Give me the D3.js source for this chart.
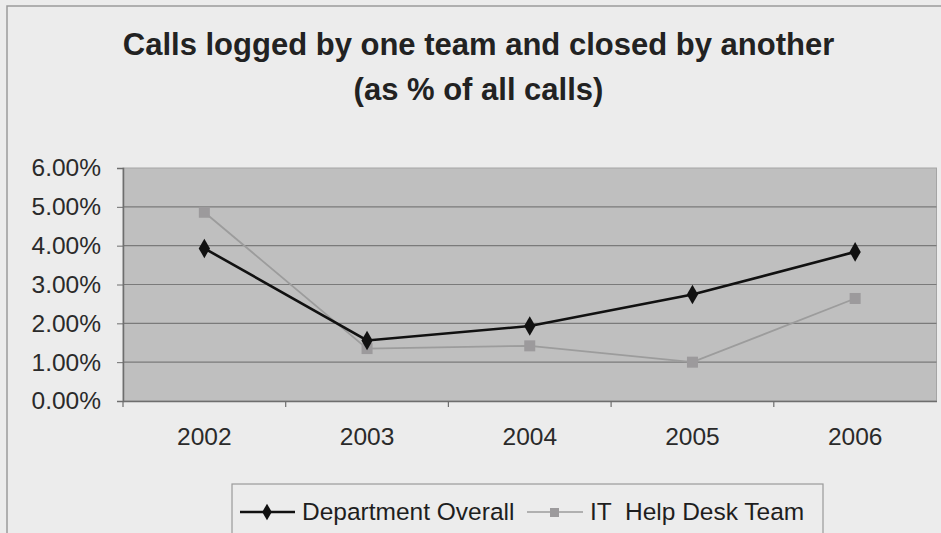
<!DOCTYPE html>
<html>
<head>
<meta charset="utf-8">
<script src="https://cdn.jsdelivr.net/npm/d3@7"></script>
<style>
  html, body { margin: 0; padding: 0; background: #ececec; }
  svg { display: block; font-family: "Liberation Sans", Arial, sans-serif; }
</style>
</head>
<body>
<svg id="chart" width="941" height="533"></svg>
<script>
// Share of calls logged by one team and closed by another
const years = ["2002", "2003", "2004", "2005", "2006"];
const departmentOverall = [0.0393, 0.0156, 0.0193, 0.0274, 0.0384];
const itHelpDesk = [0.0486, 0.0135, 0.0142, 0.0100, 0.0264];
const yTicks = [0, 0.01, 0.02, 0.03, 0.04, 0.05, 0.06];
const seriesNames = ["Department Overall", "IT  Help Desk Team"];

const svg = d3.select("#chart");
const W = 941, H = 533;
const FONT = "'Liberation Sans', Arial, sans-serif";

// outer chart frame
svg.append("rect").attr("x", 0).attr("y", 0).attr("width", W).attr("height", H).attr("fill", "#ececec");
svg.append("rect").attr("x", 7).attr("y", 6).attr("width", 950).attr("height", 540)
  .attr("fill", "#ececec").attr("stroke", "#9a9a9a").attr("stroke-width", 1.5);

const plot = { left: 123, right: 936.5, top: 168, bottom: 401 };

const x = d3.scaleBand().domain(years).range([plot.left, plot.right]).paddingInner(0).paddingOuter(0);
const y = d3.scaleLinear().domain([0, 0.06]).range([plot.bottom, plot.top]);
const cx = d => x(d) + x.bandwidth() / 2;

// title
const title = svg.append("text").attr("text-anchor", "middle").attr("font-weight", "bold")
  .attr("font-size", 31).attr("fill", "#222");
title.append("tspan").attr("x", 478.5).attr("y", 55).text("Calls logged by one team and closed by another");
title.append("tspan").attr("x", 478.5).attr("y", 100).text("(as % of all calls)");

// plot background
svg.append("rect").attr("x", plot.left).attr("y", plot.top)
  .attr("width", plot.right - plot.left).attr("height", plot.bottom - plot.top)
  .attr("fill", "#bfbfbf").attr("stroke", "#a5a5a5").attr("stroke-width", 1);

// gridlines
svg.append("g").selectAll("line").data(yTicks.slice(1, -1)).join("line")
  .attr("x1", plot.left).attr("x2", plot.right)
  .attr("y1", d => y(d)).attr("y2", d => y(d))
  .attr("stroke", "#7a7a7a").attr("stroke-width", 1.2);

// y axis
const yAxis = svg.append("g").attr("transform", `translate(${plot.left},0)`)
  .call(d3.axisLeft(y).tickValues(yTicks).tickFormat(d3.format(".2%")).tickSize(6).tickPadding(16));
yAxis.select(".domain").attr("stroke", "#6e6e6e").attr("stroke-width", 1.5);
yAxis.selectAll(".tick line").attr("stroke", "#6e6e6e");
yAxis.selectAll("text").attr("font-size", 24.5).attr("fill", "#2a2a2a").attr("font-family", FONT);

// x axis with ticks at category boundaries
const xAxis = svg.append("g").attr("transform", `translate(0,${plot.bottom})`)
  .call(d3.axisBottom(x).tickSize(0).tickPadding(27));
xAxis.select(".domain").attr("stroke", "#6e6e6e").attr("stroke-width", 1.5);
xAxis.selectAll("text").attr("font-size", 24.5).attr("fill", "#2a2a2a").attr("font-family", FONT);
svg.append("g").selectAll("line").data(years.slice(1)).join("line")
  .attr("x1", d => x(d)).attr("x2", d => x(d))
  .attr("y1", plot.bottom).attr("y2", plot.bottom + 6)
  .attr("stroke", "#6e6e6e").attr("stroke-width", 1.2);
svg.append("line").attr("x1", plot.left).attr("x2", plot.left)
  .attr("y1", plot.bottom).attr("y2", plot.bottom + 6).attr("stroke", "#6e6e6e").attr("stroke-width", 1.2);

const line = d3.line().x((d, i) => cx(years[i])).y(d => y(d));

// IT Help Desk series (grey squares)
svg.append("path").datum(itHelpDesk).attr("d", line)
  .attr("fill", "none").attr("stroke", "#9c9c9c").attr("stroke-width", 1.8);
svg.append("g").selectAll("rect").data(itHelpDesk).join("rect")
  .attr("x", (d, i) => cx(years[i]) - 5.5).attr("y", d => y(d) - 5.5)
  .attr("width", 11).attr("height", 11).attr("fill", "#9c9a9c");

// Department overall series (black diamonds)
const diamond = d3.symbol().type(d3.symbolDiamond).size(110);
svg.append("path").datum(departmentOverall).attr("d", line)
  .attr("fill", "none").attr("stroke", "#111").attr("stroke-width", 2.6);
svg.append("g").selectAll("path").data(departmentOverall).join("path")
  .attr("d", diamond)
  .attr("transform", (d, i) => `translate(${cx(years[i])},${y(d)})`)
  .attr("fill", "#111");

// legend
const lg = svg.append("g");
lg.append("rect").attr("x", 232).attr("y", 484).attr("width", 591).attr("height", 60)
  .attr("fill", "#ececec").attr("stroke", "#9a9a9a").attr("stroke-width", 1.2);
lg.append("line").attr("x1", 240).attr("x2", 295).attr("y1", 512).attr("y2", 512)
  .attr("stroke", "#111").attr("stroke-width", 2.4);
lg.append("path").attr("d", d3.symbol().type(d3.symbolDiamond).size(80))
  .attr("transform", "translate(267,512)").attr("fill", "#111");
lg.append("text").attr("x", 302).attr("y", 520).attr("font-size", 24.5).attr("fill", "#1e1e1e").text(seriesNames[0]);
lg.append("line").attr("x1", 527).attr("x2", 583).attr("y1", 512).attr("y2", 512)
  .attr("stroke", "#9c9c9c").attr("stroke-width", 1.5);
lg.append("rect").attr("x", 550).attr("y", 508).attr("width", 9).attr("height", 9).attr("fill", "#9c9a9c");
lg.append("text").attr("x", 590).attr("y", 520).attr("font-size", 24.5).attr("fill", "#1e1e1e")
  .attr("xml:space", "preserve").style("white-space", "pre").text(seriesNames[1]);
</script>
</body>
</html>
